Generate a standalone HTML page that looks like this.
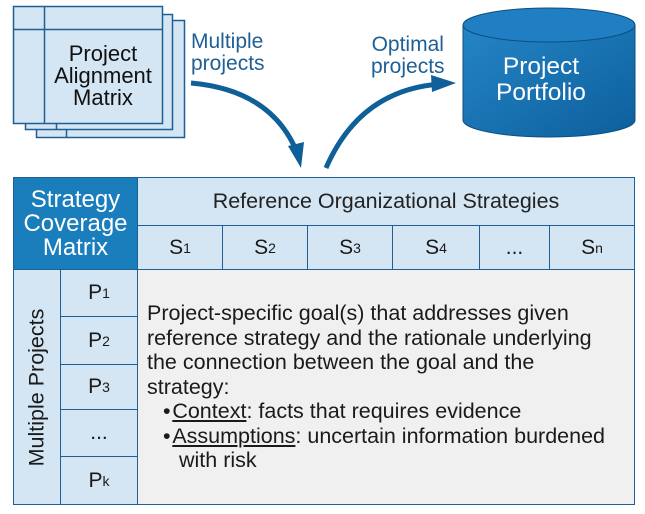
<!DOCTYPE html>
<html><head><style>
body{margin:0;width:645px;height:514px;background:#fff;font-family:"Liberation Sans",sans-serif;position:relative;overflow:hidden}
.a{position:absolute;box-sizing:border-box}
.c{display:flex;align-items:center;justify-content:center;text-align:center}
sub{font-size:14px;vertical-align:-5px;line-height:0}
.s{font-size:21px;color:#1a1a1a}
</style></head><body>
<svg class="a" style="left:0;top:0" width="645" height="514">
<g fill="#d4e5f3" stroke="#1f5f94" stroke-width="1.5">
<rect x="36.5" y="20.5" width="148" height="117"/>
<line x1="66.5" y1="120" x2="66.5" y2="137.5"/>
<rect x="25.5" y="14.5" width="147" height="115"/>
<line x1="56.5" y1="120" x2="56.5" y2="129.5"/>
<rect x="13.5" y="6.5" width="149" height="117"/>
<line x1="44.5" y1="6.5" x2="44.5" y2="123.5"/>
<line x1="13.5" y1="29.5" x2="162.5" y2="29.5"/>
</g>
<defs><linearGradient id="g" x1="0" y1="0" x2="1" y2="1"><stop offset="0" stop-color="#2585c6"/><stop offset="1" stop-color="#0d5f9c"/></linearGradient></defs>
<path d="M463,25 L463,120 A86,17 0 0 0 635,120 L635,25" fill="url(#g)" stroke="#0d4f82" stroke-width="1"/>
<ellipse cx="549" cy="25" rx="86" ry="17" fill="#1f7fc2" stroke="#0d4f82" stroke-width="1"/>
<path d="M191,83 Q270,90 296,150" fill="none" stroke="#0f5f99" stroke-width="5"/>
<polygon points="288,146 304,142 301,168" fill="#0f5f99"/>
<path d="M326,168 Q360,90 440,84" fill="none" stroke="#0f5f99" stroke-width="5"/>
<polygon points="431,75 456,83 432,92" fill="#0f5f99"/>
</svg>
<div class="a c" style="left:44px;top:29px;width:118px;height:94px;font-size:22px;line-height:22px;color:#111">Project<br>Alignment<br>Matrix</div>
<div class="a" style="left:191px;top:31px;font-size:21px;line-height:22px;color:#1f5f94">Multiple<br>projects</div>
<div class="a" style="left:371px;top:34px;font-size:21px;line-height:22px;color:#1f5f94;text-align:center">Optimal<br>projects</div>
<div class="a c" style="left:455px;top:54px;width:172px;font-size:24.5px;line-height:26px;color:#fff">Project<br>Portfolio</div>

<div class="a" style="left:13px;top:177px;width:622px;height:328px;border:1.5px solid #1f5f94;background:#f0f0f0"></div>
<div class="a c" style="left:13px;top:177px;width:125px;height:93px;background:#1a7ebd;border:1.5px solid #1f5f94;color:#fff;font-size:24px;line-height:24px">Strategy<br>Coverage<br>Matrix</div>
<div class="a c" style="left:137px;top:177px;width:498px;height:49px;background:#d4e5f3;border:1.5px solid #1f5f94;font-size:21.5px;color:#222">Reference Organizational Strategies</div>
<div class="a" style="left:137px;top:225px;width:498px;height:45px;display:flex">
<div class="c a s" style="position:relative;width:86px;height:45px;background:#d4e5f3;border:1.5px solid #1f5f94">S<sub>1</sub></div>
<div class="c a s" style="position:relative;width:85px;height:45px;background:#d4e5f3;border:1.5px solid #1f5f94;border-left:none">S<sub>2</sub></div>
<div class="c a s" style="position:relative;width:85px;height:45px;background:#d4e5f3;border:1.5px solid #1f5f94;border-left:none">S<sub>3</sub></div>
<div class="c a s" style="position:relative;width:87px;height:45px;background:#d4e5f3;border:1.5px solid #1f5f94;border-left:none">S<sub>4</sub></div>
<div class="c a s" style="position:relative;width:70px;height:45px;background:#d4e5f3;border:1.5px solid #1f5f94;border-left:none">...</div>
<div class="c a s" style="position:relative;width:85px;height:45px;background:#d4e5f3;border:1.5px solid #1f5f94;border-left:none">S<sub>n</sub></div>
</div>
<div class="a c" style="left:13px;top:269px;width:48px;height:236px;background:#d4e5f3;border:1.5px solid #1f5f94"><div style="transform:rotate(-90deg);white-space:nowrap;font-size:21.5px;color:#1a1a1a">Multiple Projects</div></div>
<div class="a c s" style="left:60px;top:269px;width:78px;height:48px;background:#d4e5f3;border:1.5px solid #1f5f94">P<sub>1</sub></div>
<div class="a c s" style="left:60px;top:316px;width:78px;height:49px;background:#d4e5f3;border:1.5px solid #1f5f94">P<sub>2</sub></div>
<div class="a c s" style="left:60px;top:364px;width:78px;height:46px;background:#d4e5f3;border:1.5px solid #1f5f94">P<sub>3</sub></div>
<div class="a c s" style="left:60px;top:409px;width:78px;height:48px;background:#d4e5f3;border:1.5px solid #1f5f94">...</div>
<div class="a c s" style="left:60px;top:456px;width:78px;height:49px;background:#d4e5f3;border:1.5px solid #1f5f94">P<sub>k</sub></div>
<div class="a" style="left:147px;top:301px;width:488px;font-size:21.5px;line-height:24.5px;color:#1a1a1a;white-space:nowrap">Project-specific goal(s) that addresses given<br>reference strategy and the rationale underlying<br>the connection between the goal and the<br>strategy:<br>
<span style="margin-left:16px">•&#8202;<u>Context</u>: facts that requires evidence</span><br>
<span style="margin-left:16px">•&#8202;<u>Assumptions</u>: uncertain information burdened</span><br>
<span style="margin-left:32px">with risk</span></div>
</body></html>
